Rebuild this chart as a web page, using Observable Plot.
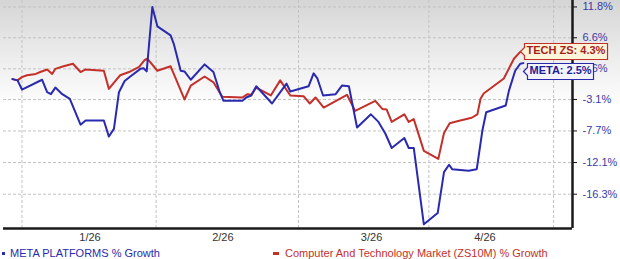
<!DOCTYPE html>
<html><head><meta charset="utf-8">
<script src="https://cdn.jsdelivr.net/npm/d3@7"></script>
<script src="https://cdn.jsdelivr.net/npm/@observablehq/plot@0.6"></script>
<style>
html,body{margin:0;padding:0;}
body{width:620px;height:259px;overflow:hidden;position:relative;
  background:linear-gradient(to bottom,#d5d5d5 0px,#ececec 55px,#fbfbfb 98px,#ffffff 104px,#ffffff 100%);
  font-family:"Liberation Sans",Arial,sans-serif;}
#chart svg{display:block;}
#legend{position:absolute;left:0;top:246px;width:620px;height:14px;font-size:11px;line-height:14px;}
#legend .t{position:absolute;top:0;white-space:nowrap;}
#legend .m{position:absolute;}
</style>
</head><body>
<div id="chart"></div>
<div id="legend"></div>
<script>
// ---- data ----
const metaDay = [0,0.8,1.5,4.7,5.5,6.1,6.8,7.9,9.1,10.8,11.6,14.5,15.3,16.1,16.9,17.8,18.7,20.3,20.8,21.3,22.2,23.0,25.1,25.6,26.7,27.3,28.3,30.5,31.9,32.9,33.5,36.5,37.1,37.9,38.7,41.2,43.5,44.1,47.0,47.8,48.4,49.3,51.3,52.3,53.4,54.7,56.9,58.1,59.2,60.2,62.2,62.9,63.7,65.3,67.5,68.5,69.3,69.8,72.4,73.7,74.6,75.2,78.3,78.8,79.8,80.6,81.1];
const metaPct = [0,-0.2,-1.6,-0.1,-2.0,-2.3,-1.3,-2.3,-3.0,-6.8,-6.2,-6.2,-8.5,-7.4,-2.0,-0.3,0.4,1.6,1.7,1.2,11.8,8.5,7.0,5.6,1.3,1.2,-0.1,2.3,1.1,-2.0,-3.3,-3.3,-2.8,-2.5,-1.1,-3.7,-0.7,-1.9,-1.1,0.9,0.1,-2.5,-2.3,-1.0,-1.1,-7.2,-5.3,-6.4,-8.1,-10.1,-8.7,-10.1,-10.1,-20.1,-18.7,-13.4,-12.4,-13.0,-13.2,-13.0,-7.6,-5.0,-4.0,-1.8,1.3,2.4,2.5];
const techDay = [0,0.8,1.5,2.3,3.7,4.4,5.5,6.3,6.8,8.1,9.6,10.8,11.6,14.5,15.3,16.4,17.1,18.5,20.1,21.0,21.4,23.0,25.1,27.3,28.3,30.5,31.9,33.3,36.5,37.3,37.9,38.7,41.0,42.5,44.1,46.2,47.2,48.1,49.4,51.0,53.1,54.4,57.6,58.7,59.4,60.2,62.2,62.9,63.7,65.3,67.6,68.5,69.4,70.6,72.9,73.8,74.3,74.8,78.0,79.6,80.6];
const techPct = [0,-0.2,0.3,0.6,0.8,1.1,1.5,0.8,1.6,2.0,2.4,1.1,1.5,1.3,-1.5,-0.2,0.6,1.1,1.9,3.0,3.2,1.3,2.0,-3.1,-1.0,0.4,-0.5,-2.7,-2.8,-2.3,-2.4,-1.3,-2.5,-0.2,-2.5,-2.6,-3.7,-2.8,-4.3,-3.5,-2.4,-4.8,-3.3,-4.5,-4.6,-6.4,-5.3,-6.4,-6.0,-10.5,-11.6,-8.0,-6.6,-6.3,-5.8,-5.3,-3.0,-2.2,0.1,3.2,4.3];
const yTickPct = [11.8, 6.6, 1.6, -3.1, -7.7, -12.1, -16.3];
const monthGridDays = [1.5, 22.8, 45.4, 66.1, 85.9];
const monthLabelDays = [12.3, 33.4, 57.0, 75.0];
const monthLabels = ["1/26", "2/26", "3/26", "4/26"];
const xDomain = [-1.43, 88.9];
const yDomainPct = [-20.62, 12.92];
const endLabels = ["TECH ZS: 4.3%", "META: 2.5%"];
const legendLabels = ["META PLATFORMS % Growth", "Computer And Technology Market (ZS10M) % Growth"];

// ---- build ----
const ratio = p => 1 + p / 100;
const meta = metaDay.map((d, i) => ({day: d, r: ratio(metaPct[i])}));
const tech = techDay.map((d, i) => ({day: d, r: ratio(techPct[i])}));
const techEnd = [{day: techDay[techDay.length - 1], r: ratio(techPct[techPct.length - 1]), label: endLabels[0]}];
const metaEnd = [{day: metaDay[metaDay.length - 1], r: ratio(metaPct[metaPct.length - 1]), label: endLabels[1]}];

const BLUE = "#2a2aae", RED = "#c3302a", FONT = "'Liberation Sans', Arial, sans-serif";
const gridStyle = {stroke: "#c2c2c2", strokeOpacity: 1, strokeDasharray: "3,2", strokeWidth: 1};

const chart = Plot.plot({
  width: 620, height: 245,
  marginLeft: 3, marginRight: 48, marginTop: 0, marginBottom: 17,
  style: {background: "transparent", overflow: "visible", fontFamily: FONT, fontSize: "11px"},
  x: {domain: xDomain, label: null},
  y: {type: "log", domain: yDomainPct.map(ratio), label: null},
  marks: [
    Plot.gridY(yTickPct.map(ratio), gridStyle),
    Plot.gridX(monthGridDays, gridStyle),
    Plot.line(tech, {x: "day", y: "r", stroke: RED, strokeWidth: 2}),
    Plot.line(meta, {x: "day", y: "r", stroke: BLUE, strokeWidth: 2}),
    Plot.ruleY([ratio(yDomainPct[0])], {stroke: "#1a1a1a", strokeWidth: 2.5}),
    Plot.ruleX([xDomain[1]], {stroke: "#1a1a1a", strokeWidth: 2.5}),
    Plot.axisY(yTickPct.map(ratio), {anchor: "right", tickSize: 4, tickPadding: 6, stroke: "#111", fill: "#3a3aa6",
      tickFormat: r => ((r - 1) * 100).toFixed(1) + "%"}),
    Plot.axisX(monthLabelDays, {anchor: "bottom", tickSize: 0, tickPadding: 5, fill: "#333",
      tickFormat: (d, i) => monthLabels[i]}),
    Plot.tip(techEnd, {x: "day", y: "r", title: "label", anchor: "left", fill: "#fcf4d8", stroke: RED, strokeWidth: 1.2,
      fontSize: 11, fontWeight: "bold", fontFamily: FONT, textPadding: 2, pointerSize: 8, pathFilter: "none"}),
    Plot.tip(metaEnd, {x: "day", y: "r", title: "label", anchor: "left", dy: 8, fill: "#f3f3fa", stroke: BLUE, strokeWidth: 1.2,
      fontSize: 11, fontWeight: "bold", fontFamily: FONT, textPadding: 2, pointerSize: 8, pathFilter: "none"})
  ]
});
document.getElementById("chart").appendChild(chart);
const tips = chart.querySelectorAll('g[aria-label="tip"]');
if (tips[0]) tips[0].style.color = "#a61e1a";
if (tips[1]) tips[1].style.color = "#1e1e96";

// legend
const legend = document.getElementById("legend");
const items = [
  {label: legendLabels[0], color: BLUE, mx: 2, mw: 3, tx: 10},
  {label: legendLabels[1], color: RED, mx: 273, mw: 6, tx: 285}
];
for (const it of items) {
  const m = document.createElement("span");
  m.className = "m";
  m.style.cssText = `left:${it.mx}px;top:6px;width:${it.mw}px;height:3px;background:${it.color}`;
  legend.appendChild(m);
  const t = document.createElement("span");
  t.className = "t";
  t.style.cssText = `left:${it.tx}px;color:${it.color}`;
  t.textContent = it.label;
  legend.appendChild(t);
}
</script>
</body></html>
